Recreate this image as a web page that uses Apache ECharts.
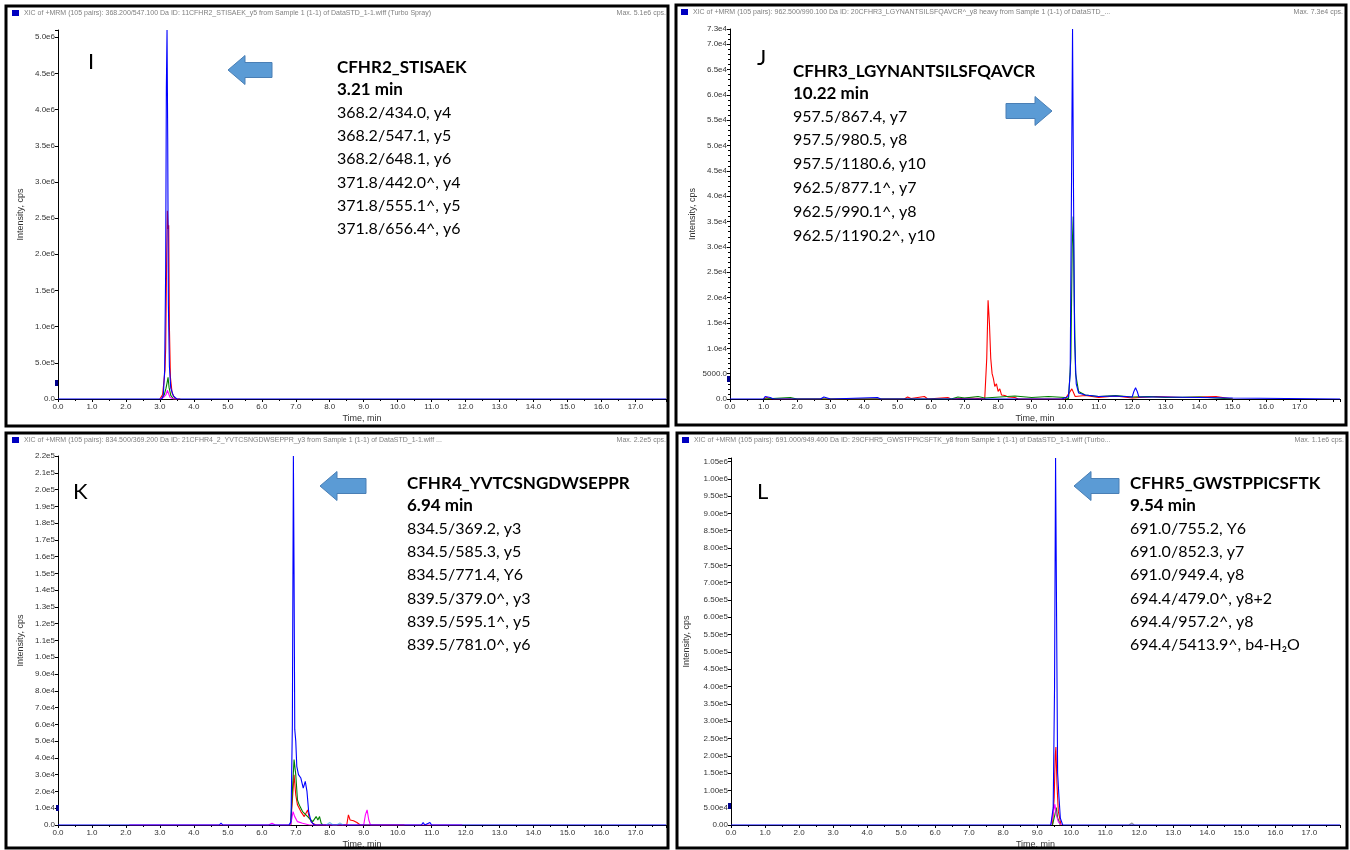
<!DOCTYPE html>
<html><head><meta charset="utf-8">
<script src="https://cdn.jsdelivr.net/npm/echarts@6/dist/echarts.min.js"></script>
<style>html,body{margin:0;padding:0;background:#fff}#c{width:1350px;height:850px}</style>
</head><body><div id="c"></div><script>
// ---------- DATA (time in min, intensity in cps) ----------
const xTickLabels = ['0.0','1.0','2.0','3.0','4.0','5.0','6.0','7.0','8.0','9.0','10.0','11.0','12.0','13.0','14.0','15.0','16.0','17.0'];

// Panel I : CFHR2_STISAEK
const I_blue = [[0,0],[3.05,0],[3.1,50000],[3.14,400000],[3.17,1800000],[3.19,4300000],[3.21,5100000],[3.23,3600000],[3.25,1300000],[3.28,450000],[3.32,150000],[3.4,40000],[3.5,0],[17.9,0]];
const I_red = [[3.0,0],[3.08,60000],[3.12,250000],[3.15,400000],[3.17,700000],[3.2,2000000],[3.22,2600000],[3.24,2350000],[3.26,2400000],[3.28,1000000],[3.31,300000],[3.36,80000],[3.45,0],[3.6,0]];
const I_green = [[3.05,0],[3.13,60000],[3.18,150000],[3.21,220000],[3.24,300000],[3.27,160000],[3.32,50000],[3.4,0],[3.5,0]];
const I_magenta = [[3.0,0],[3.1,20000],[3.18,60000],[3.22,120000],[3.26,70000],[3.3,20000],[3.4,0],[3.5,0]];

// Panel J : CFHR3_LGYNANTSILSFQAVCR
const J_blue = [[0,0],[1.0,0],[1.05,500],[1.2,300],[1.3,0],[2.7,0],[2.8,400],[3.0,0],[4.4,300],[4.5,0],[9.9,0],[10.1,500],[10.15,5000],[10.19,43000],[10.22,73000],[10.25,40000],[10.28,12000],[10.33,3000],[10.4,1200],[10.6,800],[11.0,500],[11.5,600],[12.0,400],[12.05,1500],[12.1,2200],[12.15,1500],[12.2,400],[13.0,400],[14.0,300],[15.0,200],[15.05,0],[18.2,0]];
const J_red = [[1.0,0],[1.1,300],[1.2,0],[5.2,0],[5.3,400],[5.4,100],[5.8,500],[5.9,0],[6.5,300],[6.6,0],[7.2,200],[7.6,0],[7.66,8000],[7.7,19500],[7.74,15000],[7.78,8000],[7.82,5000],[7.86,4000],[7.9,2500],[7.95,3000],[8.0,1500],[8.05,2000],[8.1,800],[8.2,700],[8.3,400],[8.5,300],[8.6,0],[10.0,0],[10.2,2000],[10.3,500],[10.6,700],[11.0,300],[11.5,600],[12.0,200],[12.7,500],[13.5,300],[14.5,500],[15.0,0]];
const J_green = [[1.0,0],[1.8,300],[2.0,0],[6.6,0],[6.8,400],[7.0,200],[7.4,500],[7.6,200],[8.5,600],[9.0,300],[9.5,500],[10.0,300],[10.1,0],[10.17,8000],[10.21,30000],[10.24,36000],[10.27,20000],[10.31,5000],[10.4,1500],[10.6,800],[11.0,500],[11.5,700],[12.0,400],[12.5,500],[13.0,300],[14.0,400],[15.0,0]];

// Panel K : CFHR4_YVTCSNGDWSEPPR
const K_blue = [[0,0],[4.75,0],[4.8,1200],[4.85,0],[6.8,0],[6.86,2000],[6.9,60000],[6.93,220000],[6.95,150000],[6.97,57000],[7.0,50000],[7.03,35000],[7.08,30000],[7.15,28000],[7.22,22000],[7.28,26000],[7.33,20000],[7.38,8000],[7.45,2000],[7.55,0],[10.7,0],[10.75,1500],[10.8,0],[10.95,1500],[11.0,0],[11.2,0],[11.25,1000],[11.3,0],[17.9,0]];
const K_green = [[6.85,0],[6.9,20000],[6.95,39000],[7.0,30000],[7.05,15000],[7.1,12000],[7.2,8000],[7.3,6000],[7.4,4000],[7.5,2000],[7.6,5000],[7.65,3000],[7.7,5000],[7.75,1000],[7.8,0]];
const K_red = [[6.85,0],[6.9,15000],[6.95,30000],[7.0,18000],[7.05,12000],[7.15,8000],[7.25,5000],[7.35,9000],[7.4,4000],[7.5,1000],[7.6,0],[8.5,0],[8.55,6000],[8.6,3000],[8.7,2500],[8.8,1500],[8.9,0],[10.1,0],[10.15,800],[10.2,0]];
const K_magenta = [[2.1,0],[2.15,800],[2.2,0],[6.2,0],[6.3,1000],[6.4,0],[6.85,0],[6.92,8000],[6.97,5000],[7.05,2000],[7.2,1000],[7.4,0],[9.0,0],[9.05,6000],[9.1,9000],[9.15,3000],[9.2,0],[11.8,0],[11.85,1000],[11.9,0]];
const K_cyan = [[7.9,0],[8.0,1500],[8.1,0],[8.2,0],[8.3,1200],[8.4,0]];

// Panel L : CFHR5_GWSTPPICSFTK
const L_blue = [[0,0],[9.4,0],[9.47,50000],[9.51,400000],[9.54,1060000],[9.57,600000],[9.6,150000],[9.64,80000],[9.68,20000],[9.75,0],[17.9,0]];
const L_red = [[9.45,0],[9.5,80000],[9.53,200000],[9.55,225000],[9.58,120000],[9.62,40000],[9.7,0]];
const L_magenta = [[9.4,0],[9.48,40000],[9.52,60000],[9.56,30000],[9.62,10000],[9.7,0]];
const L_green = [[9.45,0],[9.52,30000],[9.56,50000],[9.6,20000],[9.68,0]];
const L_gray = [[11.7,0],[11.78,6000],[11.85,0]];

// Axis extents and tick steps
const xMax = [17.9, 18.2, 17.9, 17.9];
const yMax = [5100000, 73000, 220000, 1060000];
const yStep = [500000, 5000, 10000, 50000];

// Annotation texts
const letters = ['I','J','K','L'];
const titles = ['CFHR2_STISAEK','CFHR3_LGYNANTSILSFQAVCR','CFHR4_YVTCSNGDWSEPPR','CFHR5_GWSTPPICSFTK'];
const rts = ['3.21 min','10.22 min','6.94 min','9.54 min'];
const transI = ['368.2/434.0, y4','368.2/547.1, y5','368.2/648.1, y6','371.8/442.0^, y4','371.8/555.1^, y5','371.8/656.4^, y6'];
const transJ = ['957.5/867.4, y7','957.5/980.5, y8','957.5/1180.6, y10','962.5/877.1^, y7','962.5/990.1^, y8','962.5/1190.2^, y10'];
const transK = ['834.5/369.2, y3','834.5/585.3, y5','834.5/771.4, Y6','839.5/379.0^, y3','839.5/595.1^, y5','839.5/781.0^, y6'];
const transL = ['691.0/755.2, Y6','691.0/852.3, y7','691.0/949.4, y8','694.4/479.0^, y8+2','694.4/957.2^, y8','694.4/5413.9^, b4-H\u2082O'];
const headers = [
 'XIC of +MRM (105 pairs): 368.200/547.100 Da ID: 11CFHR2_STISAEK_y5 from Sample 1 (1-1) of DataSTD_1-1.wiff (Turbo Spray)',
 'XIC of +MRM (105 pairs): 962.500/990.100 Da ID: 20CFHR3_LGYNANTSILSFQAVCR^_y8 heavy from Sample 1 (1-1) of DataSTD_...',
 'XIC of +MRM (105 pairs): 834.500/369.200 Da ID: 21CFHR4_2_YVTCSNGDWSEPPR_y3 from Sample 1 (1-1) of DataSTD_1-1.wiff ...',
 'XIC of +MRM (105 pairs): 691.000/949.400 Da ID: 29CFHR5_GWSTPPICSFTK_y8 from Sample 1 (1-1) of DataSTD_1-1.wiff (Turbo...'
];
const maxTexts = ['Max. 5.1e6 cps.','Max. 7.3e4 cps.','Max. 2.2e5 cps.','Max. 1.1e6 cps.'];

// ---------- LAYOUT ----------
const grids = [
 {left:58, top:30, width:608, height:369},
 {left:730, top:29, width:610, height:370},
 {left:58, top:456, width:608, height:371},
 {left:731, top:458, width:609, height:371}
];
const frames = [[6,6,662,420],[676,5,670,420],[6,433,662,415],[677,433,670,415]];

const C = {blue:'#0000ff', red:'#ff0000', green:'#008000', magenta:'#ff00ff', cyan:'#7fc6e6', gray:'#9a9a9a'};
const panelTraces = [
 [[I_red,C.red],[I_green,C.green],[I_magenta,C.magenta],[I_blue,C.blue]],
 [[J_red,C.red],[J_green,C.green],[J_blue,C.blue]],
 [[K_red,C.red],[K_green,C.green],[K_magenta,C.magenta],[K_cyan,C.cyan],[K_blue,C.blue]],
 [[L_red,C.red],[L_green,C.green],[L_magenta,C.magenta],[L_gray,C.gray],[L_blue,C.blue]]
];

function yFmt(i){
  return function(v){
    if (v === 0) return i === 3 ? '0.00' : '0.0';
    if (Math.abs(v/yStep[i] - Math.round(v/yStep[i])) > 1e-6 && i !== 1) return '';
    if (i === 1 && v === 5000) return '5000.0';
    return v.toExponential(i === 3 ? 2 : 1).replace('e+','e');
  };
}
function xFmt(v){ return Math.abs(v - Math.round(v)) < 1e-6 ? xTickLabels[Math.round(v)] || '' : ''; }

const series = [];
panelTraces.forEach((list, i) => {
  list.forEach(([data, color], k) => {
    series.push({type:'line', xAxisIndex:i, yAxisIndex:i, data:data, showSymbol:false, silent:true,
      clip:true, z:2+k, lineStyle:{width:1.1, color:color}, itemStyle:{color:color}});
  });
});

const graphic = [];
const font = 'Lato, "Open Sans", sans-serif';
frames.forEach(f => graphic.push({type:'rect', shape:{x:f[0],y:f[1],width:f[2],height:f[3]}, style:{fill:'none', stroke:'#000', lineWidth:3}, z:100}));
const hdrPos = [[12,10,666],[681,9,1343],[12,437,666],[682,437,1344]];
hdrPos.forEach((p,i) => {
  graphic.push({type:'rect', shape:{x:p[0],y:p[1],width:7,height:6}, style:{fill:'#0000c0'}});
  graphic.push({type:'text', style:{x:p[0]+12, y:p[1]+3, text:headers[i], font:'7px "Liberation Sans", sans-serif', fill:'#808080', verticalAlign:'middle'}});
  graphic.push({type:'text', style:{x:p[2], y:p[1]+3, text:maxTexts[i], font:'7px "Liberation Sans", sans-serif', fill:'#808080', align:'right', verticalAlign:'middle'}});
});
// small markers on y axes
[[55,380],[727,376],[56,805],[728,803]].forEach(p => graphic.push({type:'rect', shape:{x:p[0],y:p[1],width:3,height:6}, style:{fill:'#00008b'}, z:50}));

const letterPos = [[88,62],[757,58],[73,492],[757,492]];
const titlePos = [[337,68],[793,72],[407,484],[1130,484]];
const trans = [transI, transJ, transK, transL];
const lineStep = [23.3, 23.8, 23.3, 23.3];
letters.forEach((L,i) => {
  graphic.push({type:'text', style:{x:letterPos[i][0], y:letterPos[i][1], text:L, font:'22px '+font, fill:'#000', verticalAlign:'middle'}});
  graphic.push({type:'text', style:{x:titlePos[i][0], y:titlePos[i][1], text:titles[i], font:'bold 17px '+font, fill:'#000', verticalAlign:'middle'}});
  graphic.push({type:'text', style:{x:titlePos[i][0], y:titlePos[i][1]+21.5, text:rts[i], font:'bold 17px '+font, fill:'#000', verticalAlign:'middle'}});
  trans[i].forEach((t,k) => {
    graphic.push({type:'text', style:{x:titlePos[i][0], y:titlePos[i][1]+44.5+k*lineStep[i], text:t, font:'16px '+font, fill:'#000', verticalAlign:'middle'}});
  });
});
// block arrows
function arrow(tipX, cy, len, dir){
  const hw = 14.5, bw = 7.5, head = 17;
  const s = dir; // -1 left, +1 right
  const bx = tipX - s*head, ex = tipX - s*len;
  return [[tipX,cy],[bx,cy-hw],[bx,cy-bw],[ex,cy-bw],[ex,cy+bw],[bx,cy+bw],[bx,cy+hw]];
}
[[228,70,44,-1],[1052,111,46,1],[320,486,46,-1],[1074,486,45,-1]].forEach(a => {
  graphic.push({type:'polygon', shape:{points:arrow(a[0],a[1],a[2],a[3])}, style:{fill:'#5b9bd5', stroke:'#4a7fb5', lineWidth:1}});
});

const option = {
  animation:false,
  backgroundColor:'#fff',
  grid: grids,
  xAxis: grids.map((g,i) => ({
    gridIndex:i, type:'value', min:0, max:xMax[i], interval:1,
    axisLine:{show:true, onZero:false, lineStyle:{color:'#000', width:1}},
    axisTick:{show:true, length:3, lineStyle:{color:'#000'}},
    minorTick:{show:true, splitNumber:2, length:2, lineStyle:{color:'#000'}},
    axisLabel:{fontSize:8, color:'#333', margin:4, formatter:xFmt, fontFamily:'"Liberation Sans", sans-serif'},
    splitLine:{show:false},
    name:'Time, min', nameLocation:'middle', nameGap:15,
    nameTextStyle:{fontSize:9, color:'#333', fontFamily:'"Liberation Sans", sans-serif'}
  })),
  yAxis: grids.map((g,i) => ({
    gridIndex:i, type:'value', min:0, max:yMax[i], interval:yStep[i],
    axisLine:{show:true, lineStyle:{color:'#000', width:1}},
    axisTick:{show:true, length:3, lineStyle:{color:'#000'}},
    minorTick:{show:i===1, splitNumber:5, length:2, lineStyle:{color:'#000'}},
    axisLabel:{fontSize:8, color:'#333', margin:3, formatter:yFmt(i), fontFamily:'"Liberation Sans", sans-serif'},
    splitLine:{show:false},
    name:'Intensity, cps', nameLocation:'middle', nameGap:i===3?40:33, nameRotate:90,
    nameTextStyle:{fontSize:9, color:'#333', fontFamily:'"Liberation Sans", sans-serif'}
  })),
  series: series,
  graphic: graphic
};
const chart = echarts.init(document.getElementById('c'), null, {renderer:'canvas'});
chart.setOption(option);
</script></body></html>
